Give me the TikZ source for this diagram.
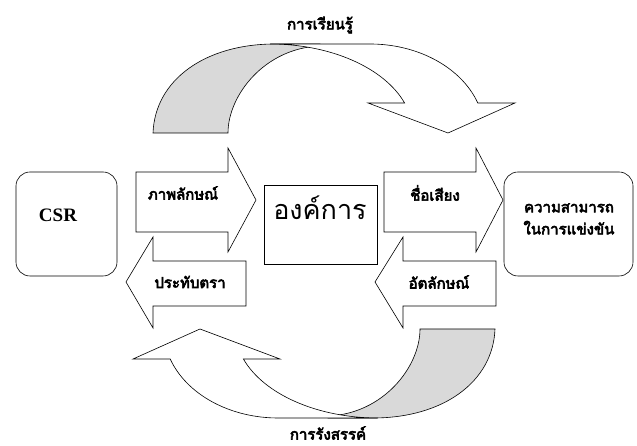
\documentclass[tikz,border=0pt]{standalone}
\usepackage{fontspec}
\setmainfont{Liberation Serif}
\newfontfamily\thaifont[Script=Thai]{Loma}
\newfontfamily\thaibold[Script=Thai, FakeBold=4]{Loma}
\usepackage{tikz}
\usetikzlibrary{positioning}

\tikzset{
  shapeline/.style={draw=black, line width=0.6pt, line join=miter},
  blockarrow/.style={shapeline, fill=white},
  backband/.style={shapeline, fill=gray!30},
  lbl/.style={font=\thaibold\fontsize{15}{17}\selectfont},
  bigl/.style={font=\thaifont\fontsize{27}{30}\selectfont},
  boxtext/.style={font=\bfseries\fontsize{19}{22}\selectfont}
}

\begin{document}
\begin{tikzpicture}[x=1pt, y=1pt]
  \useasboundingbox (0,0) rectangle (637,446);

  % top curved arrow (learning)
  \draw[backband] (153,313) .. controls (155,366) and (205,402) .. (275,402) -- (320,402)
        -- (320,400) .. controls (265,398) and (228,351) .. (228,313) -- cycle;
  \draw[blockarrow] (270,402) -- (370,402)
        arc[start angle=90, end angle=19.7, x radius=114.5, y radius=89]
        -- (515,343) -- (448,313) -- (368,343) -- (404.6,343)
        arc[start angle=19.7, end angle=90, x radius=143, y radius=89] -- cycle;

  % bottom curved arrow (creation), same shape turned round
  \begin{scope}[rotate around={180:(324,215)}]
    \draw[backband] (153,313) .. controls (155,366) and (205,402) .. (275,402) -- (320,402)
          -- (320,400) .. controls (265,398) and (228,351) .. (228,313) -- cycle;
    \draw[blockarrow] (270,402) -- (370,402)
          arc[start angle=90, end angle=19.7, x radius=114.5, y radius=89]
          -- (515,343) -- (448,313) -- (368,343) -- (404.6,343)
          arc[start angle=19.7, end angle=90, x radius=143, y radius=89] -- cycle;
  \end{scope}

  \node[lbl] (learn) at (320,421) {การเรียนรู้};
  \node[lbl] (create) at (328,13) {การรังสรรค์};

  % boxes
  \draw[shapeline, rounded corners=14pt] (16,170) rectangle (117,274);
  \draw[shapeline] (264,182) rectangle (377,261);
  \draw[shapeline, rounded corners=14pt] (504,170) rectangle (633,274);

  \node[boxtext] (csr) at (58,231) {CSR};
  \node[bigl] (org) at (320,238) {องค์การ};
  \node[lbl, align=center, font=\thaibold\fontsize{15}{22}\selectfont] (comp) at (569,227)
        {ความสามารถ\\ในการแข่งขัน};

  % block arrows pointing right
  \draw[blockarrow] (136,214) -- (136,274) -- (228,274) -- (228,298) -- (256,246)
        -- (228,194) -- (228,214) -- cycle;
  \draw[blockarrow] (384,214) -- (384,274) -- (476,274) -- (476,298) -- (503,246)
        -- (476,194) -- (476,214) -- cycle;
  % block arrows pointing left
  \draw[blockarrow] (246,140) -- (246,185) -- (153,185) -- (153,209) -- (126,164)
        -- (153,118) -- (153,140) -- cycle;
  \draw[blockarrow] (496,140) -- (496,185) -- (403,185) -- (403,209) -- (375,164)
        -- (403,118) -- (403,140) -- cycle;

  \node[lbl] (image) at (183,253) {ภาพลักษณ์};
  \node[lbl] (fame) at (435,253) {ชื่อเสียง};
  \node[lbl] (brand) at (190,164) {ประทับตรา};
  \node[lbl] (ident) at (439,164) {อัตลักษณ์};
\end{tikzpicture}
\end{document}
